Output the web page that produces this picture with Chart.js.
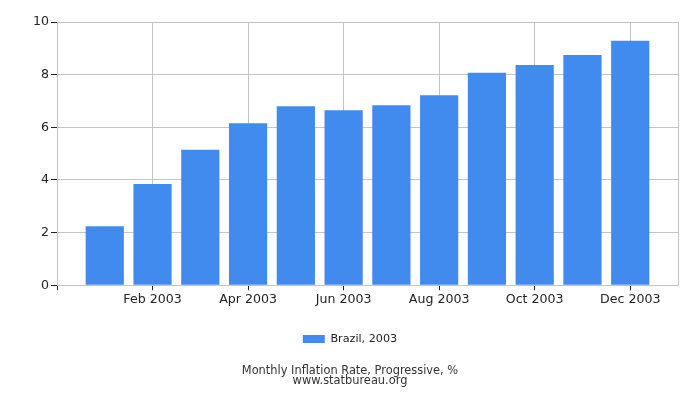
<!DOCTYPE html>
<html>
<head>
<meta charset="utf-8">
<script src="https://cdn.jsdelivr.net/npm/chart.js@4"></script>
<style>
  html, body { margin: 0; padding: 0; background: #fff; }
  #wrap { width: 700px; height: 400px; }
</style>
</head>
<body>
<div id="wrap"><canvas id="graph"></canvas></div>
<script>
const months = ["Jan 2003", "Feb 2003", "Mar 2003", "Apr 2003", "May 2003", "Jun 2003",
  "Jul 2003", "Aug 2003", "Sep 2003", "Oct 2003", "Nov 2003", "Dec 2003"];
const brazil2003 = [2.24, 3.85, 5.15, 6.15, 6.80, 6.65, 6.84, 7.22, 8.07, 8.37, 8.75, 9.29];
const yTicks = [0, 2, 4, 6, 8, 10];
const seriesLabel = "Brazil, 2003";
const titleLines = ["Monthly Inflation Rate, Progressive, %", "www.statbureau.org"];

const font = "'DejaVu Sans', sans-serif";
const gridColor = "#c4c4c4";

const ctx = document.getElementById("graph").getContext("2d");

const chart = new Chart(ctx, {
  type: "bar",
  data: {
    datasets: [
      {
        label: seriesLabel,
        backgroundColor: "#428bee",
        data: brazil2003.map((v, i) => ({ x: i, y: v })),
        barPercentage: 1,
        categoryPercentage: 0.8,
      },
    ],
  },
  options: {
    responsive: true,
    maintainAspectRatio: false,
    animation: false,
    layout: { padding: { top: 22, right: 0, left: 0, bottom: 14 } },
    scales: {
      x: {
        type: "linear",
        offset: false,
        min: -1,
        max: months.length,
        afterBuildTicks: (axis) => {
          const t = [{ value: -1 }];
          months.forEach((m, i) => { if (i % 2 === 1) t.push({ value: i }); });
          t.push({ value: months.length });
          axis.ticks = t;
        },
        afterFit: (axis) => { axis.height = 34; },
        ticks: {
          autoSkip: false,
          maxRotation: 0,
          color: "#222",
          font: { family: font, size: 12.6 },
          padding: 2,
          callback: (v) => (months[v] && v % 2 === 1 ? months[v] : ""),
        },
        grid: {
          offset: false,
          color: gridColor,
          tickColor: (c) => (c.tick && c.tick.value === months.length ? "rgba(0,0,0,0)" : "#222"),
          tickLength: 5,
        },
        border: { color: gridColor },
      },
      y: {
        min: 0,
        max: 10,
        afterBuildTicks: (axis) => { axis.ticks = yTicks.map((v) => ({ value: v })); },
        afterFit: (axis) => { axis.width = 57; },
        ticks: {
          color: "#222",
          font: { family: font, size: 12.6 },
          padding: 2,
        },
        grid: { color: gridColor, tickColor: "#222", tickLength: 6 },
        border: { color: gridColor },
      },
      yRight: {
        position: "right",
        min: 0,
        max: 10,
        afterFit: (axis) => { axis.width = 22; },
        ticks: { display: false },
        grid: { display: false },
        border: { display: false },
      },
    },
    plugins: {
      legend: {
        position: "bottom",
        labels: {
          boxWidth: 22,
          boxHeight: 8,
          color: "#222",
          font: { family: font, size: 11.2 },
          padding: 14,
        },
      },
      title: {
        display: true,
        position: "bottom",
        text: titleLines,
        color: "#333",
        font: { family: font, size: 11.4, weight: "normal", lineHeight: 0.9 },
        padding: { top: 11, bottom: 0 },
      },
      tooltip: { enabled: false },
    },
  },
  plugins: [
    {
      id: "rightBorder",
      afterDraw(c) {
        const a = c.chartArea;
        const g = c.ctx;
        g.save();
        g.strokeStyle = gridColor;
        g.lineWidth = 1;
        g.beginPath();
        g.moveTo(Math.round(a.right) + 0.5, a.top);
        g.lineTo(Math.round(a.right) + 0.5, a.bottom);
        g.stroke();
        g.restore();
      },
    },
  ],
});
</script>
</body>
</html>
